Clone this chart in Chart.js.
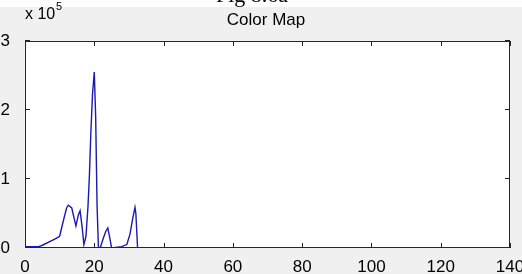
<!DOCTYPE html>
<html>
<head>
<meta charset="utf-8">
<script src="https://cdn.jsdelivr.net/npm/chart.js@4/dist/chart.umd.min.js"></script>
<style>
  html, body { margin: 0; padding: 0; background: #ffffff; overflow: hidden; }
  #chart { display: block; }
</style>
</head>
<body>
<canvas id="chart" width="522" height="274"></canvas>
<script>
// data (hue bin -> pixel count)
const binX = [0, 4, 5, 7, 9, 10, 11, 12, 12.5, 13.5,
              14, 14.7, 15.4, 15.9, 16.5, 17, 17.6, 18.2, 18.6, 19,
              19.5, 20, 20.4, 20.8, 21.2, 21.7, 22.6, 23.3, 23.9, 24.5,
              25, 27.9, 29.4, 30.3, 31.1, 31.75, 32, 32.5, 80, 127.6];
const counts = [2000, 2000, 4000, 9000, 14000, 17000, 38000, 58000, 62000, 58000,
                47000, 32000, 48000, 54000, 30000, 5000, 17000, 62000, 106000, 166000,
                224000, 255000, 190000, 62000, 0, 0, 14000, 24000, 29000, 14000,
                0, 2000, 5000, 20000, 43000, 59000, 50000, 0, 0, 0];
const xTicks = [0, 20, 40, 60, 80, 100, 120, 140];
const yTicks = [0, 100000, 200000, 300000];

const figTitle = 'Fig 8.6a';
const chartTitle = 'Color Map';
const axisFont = '"Liberation Sans", Arial, sans-serif';

const points = binX.map((x, i) => ({ x: x, y: counts[i] }));

// gray figure, white axes box, the half-cut caption on top
const framePlugin = {
  id: 'frame',
  beforeDraw(chart) {
    const { ctx, chartArea: a } = chart;
    ctx.save();
    ctx.fillStyle = '#ffffff';
    ctx.fillRect(0, 0, chart.width, chart.height);
    ctx.fillStyle = '#f0f0f0';
    ctx.fillRect(0, 7, chart.width, chart.height - 7);
    ctx.fillStyle = '#ffffff';
    ctx.fillRect(a.left, a.top, a.right - a.left, a.bottom - a.top);
    // caption cut at the top edge
    ctx.beginPath();
    ctx.rect(0, 0, chart.width, 7);
    ctx.clip();
    ctx.fillStyle = '#000';
    ctx.font = '22px "Liberation Serif", "Times New Roman", serif';
    ctx.textAlign = 'center';
    ctx.textBaseline = 'alphabetic';
    ctx.fillText(figTitle, 252, 2);
    ctx.restore();
  },
  afterDraw(chart) {
    const { ctx, chartArea: a, scales } = chart;
    ctx.save();
    ctx.strokeStyle = '#262626';
    ctx.lineWidth = 1;
    ctx.strokeRect(a.left + 0.5, a.top + 0.5, a.right - a.left - 1, a.bottom - a.top - 1);
    // inward ticks on all four sides
    const tl = 5;
    ctx.beginPath();
    xTicks.forEach(v => {
      const px = Math.round(scales.x.getPixelForValue(v)) + 0.5;
      ctx.moveTo(px, a.bottom); ctx.lineTo(px, a.bottom - tl);
      ctx.moveTo(px, a.top); ctx.lineTo(px, a.top + tl);
    });
    yTicks.forEach(v => {
      const py = Math.round(scales.y.getPixelForValue(v)) - 0.5;
      ctx.moveTo(a.left, py); ctx.lineTo(a.left + tl, py);
      ctx.moveTo(a.right, py); ctx.lineTo(a.right - tl, py);
    });
    ctx.stroke();
    // title and exponent label
    ctx.fillStyle = '#000';
    ctx.font = '17px ' + axisFont;
    ctx.textAlign = 'center';
    ctx.textBaseline = 'alphabetic';
    ctx.fillText(chartTitle, 266, 25);
    ctx.textAlign = 'left';
    ctx.font = '16px ' + axisFont;
    ctx.fillText('x 10', 25, 19);
    ctx.font = '11px ' + axisFont;
    ctx.fillText('5', 56, 10);
    ctx.restore();
  }
};

new Chart(document.getElementById('chart'), {
  type: 'line',
  data: {
    datasets: [{
      data: points,
      borderColor: '#1a1aae',
      borderWidth: 1.4,
      pointRadius: 0,
      tension: 0,
      fill: false
    }]
  },
  options: {
    responsive: false,
    animation: false,
    devicePixelRatio: 1,
    layout: { padding: { top: 41, right: 12, left: 0, bottom: 0 } },
    plugins: { legend: { display: false }, tooltip: { enabled: false } },
    scales: {
      x: {
        type: 'linear',
        min: 0,
        max: 140,
        afterBuildTicks: s => { s.ticks = xTicks.map(v => ({ value: v })); },
        afterFit: s => { s.height = 26; s.paddingLeft = 0; s.paddingRight = 0; },
        grid: { display: false },
        border: { display: false },
        ticks: { color: '#000', font: { family: axisFont, size: 17 }, padding: 1, maxRotation: 0, autoSkip: false }
      },
      y: {
        min: 0,
        max: 300000,
        afterBuildTicks: s => { s.ticks = yTicks.map(v => ({ value: v })); },
        afterFit: s => { s.width = 25; s.paddingTop = 0; s.paddingBottom = 0; },
        grid: { display: false },
        border: { display: false },
        ticks: {
          color: '#000',
          font: { family: axisFont, size: 17 },
          padding: 7,
          callback: v => String(v / 100000)
        }
      }
    }
  },
  plugins: [framePlugin]
});
</script>
</body>
</html>
